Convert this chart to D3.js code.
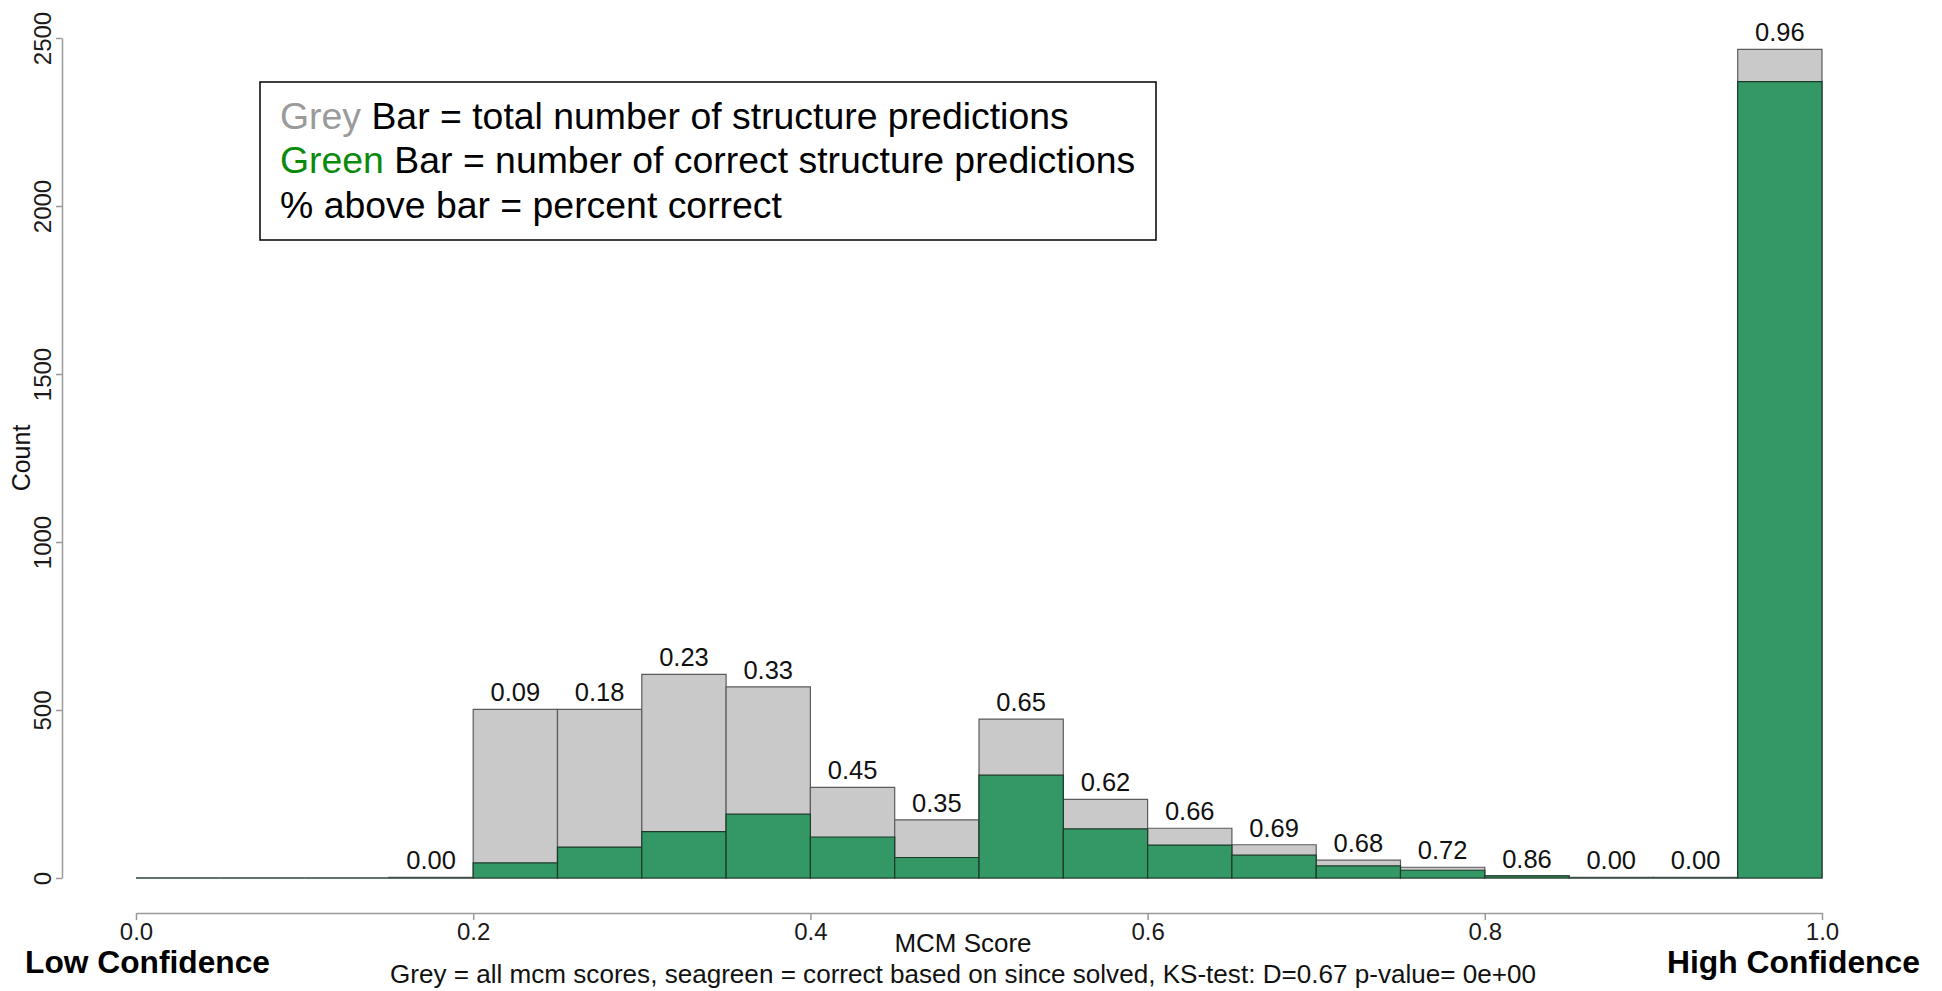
<!DOCTYPE html>
<html>
<head>
<meta charset="utf-8">
<script src="https://cdn.jsdelivr.net/npm/d3@7"></script>
<style>
  html, body { margin: 0; padding: 0; background: #ffffff; }
  svg { display: block; font-family: "Liberation Sans", Arial, Helvetica, sans-serif; }
</style>
</head>
<body>
<svg id="chart" width="1942" height="991"></svg>
<script>
// MCM score histogram: bin edges (width 0.05) and per-bin counts
const binEdges = [0.00, 0.05, 0.10, 0.15, 0.20, 0.25, 0.30, 0.35, 0.40, 0.45,
                  0.50, 0.55, 0.60, 0.65, 0.70, 0.75, 0.80, 0.85, 0.90, 0.95, 1.00];
// all structure predictions per bin (grey)
const totalCounts = [0, 0, 0, 2, 502, 502, 606, 569, 270, 173,
                     473, 234, 148, 99, 53, 32, 7, 2, 2, 2466];
// correct structure predictions per bin (seagreen)
const correctCounts = [0, 0, 0, 0, 45, 92, 138, 190, 122, 61,
                       306, 146, 98, 68, 36, 23, 6, 0, 0, 2370];

const xTickValues = [0.0, 0.2, 0.4, 0.6, 0.8, 1.0];
const yTickValues = [0, 500, 1000, 1500, 2000, 2500];

const xLabel = "MCM Score";
const yLabel = "Count";
const subLabel = "Grey = all mcm scores, seagreen = correct based on since solved, KS-test: D=0.67 p-value= 0e+00";
const lowLabel = "Low Confidence";
const highLabel = "High Confidence";
const legendLines = [
  [{ t: "Grey", c: "#9a9a9a" }, { t: " Bar = total number of structure predictions", c: "#000000" }],
  [{ t: "Green", c: "#0a8a0a" }, { t: " Bar = number of correct structure predictions", c: "#000000" }],
  [{ t: "% above bar = percent correct", c: "#000000" }]
];

// ---- layout ----
const svg = d3.select("#chart");
const plotLeft = 136, plotRight = 1822;
const baseY = 878, topY = 38;
const yAxisX = 62, xAxisY = 913;

const x = d3.scaleLinear().domain([0, 1]).range([plotLeft, plotRight]);
const y = d3.scaleLinear().domain([0, 2500]).range([baseY, topY]);

const bins = totalCounts.map((n, i) => ({
  x0: binEdges[i], x1: binEdges[i + 1], total: n, correct: correctCounts[i]
}));

// a rectangle outline as a path so that empty bins still show as a line
function barPath(x0, x1, v) {
  const p = d3.path();
  p.moveTo(x(x0), y(0));
  p.lineTo(x(x0), y(v));
  p.lineTo(x(x1), y(v));
  p.lineTo(x(x1), y(0));
  p.closePath();
  return p.toString();
}

const bars = svg.append("g");
bars.selectAll("path.total")
  .data(bins).join("path")
  .attr("class", "total")
  .attr("d", d => barPath(d.x0, d.x1, d.total))
  .attr("fill", "#c9c9c9")
  .attr("stroke", "#5c5c5c")
  .attr("stroke-width", 1.2);

bars.selectAll("path.correct")
  .data(bins).join("path")
  .attr("class", "correct")
  .attr("d", d => barPath(d.x0, d.x1, d.correct))
  .attr("fill", "#349766")
  .attr("stroke", "#1c3a28")
  .attr("stroke-width", 1.2);

// fraction correct above each non-empty bin
svg.append("g").selectAll("text")
  .data(bins.filter(d => d.total > 0)).join("text")
  .attr("x", d => x((d.x0 + d.x1) / 2))
  .attr("y", d => y(d.total) - 8)
  .attr("text-anchor", "middle")
  .attr("font-size", 25.5)
  .attr("fill", "#111")
  .text(d => (d.correct / d.total).toFixed(2));

// ---- axes ----
const axisColor = "#9a9a9a";
const gx = svg.append("g")
  .attr("transform", `translate(0,${xAxisY})`)
  .call(d3.axisBottom(x).tickValues(xTickValues).tickFormat(d3.format(".1f"))
        .tickSize(7).tickSizeOuter(0));
const gy = svg.append("g")
  .attr("transform", `translate(${yAxisX},0)`)
  .call(d3.axisLeft(y).tickValues(yTickValues).tickFormat(d3.format("d"))
        .tickSize(6).tickSizeOuter(0));

[gx, gy].forEach(g => {
  g.attr("font-family", null).attr("font-size", 24);
  g.select(".domain").attr("stroke", axisColor).attr("stroke-width", 1.5);
  g.selectAll(".tick line").attr("stroke", axisColor).attr("stroke-width", 1.5);
  g.selectAll(".tick text").attr("fill", "#1a1a1a");
});
gx.selectAll(".tick text").attr("y", 10).attr("dy", "0.71em");
gy.selectAll(".tick text")
  .attr("transform", "rotate(-90)")
  .attr("x", 0).attr("y", -11).attr("dy", null)
  .attr("text-anchor", "middle");

// ---- axis titles and notes ----
svg.append("text")
  .attr("x", 963).attr("y", 952)
  .attr("text-anchor", "middle").attr("font-size", 25).attr("fill", "#111")
  .attr("textLength", 137).attr("lengthAdjust", "spacingAndGlyphs")
  .text(xLabel);

svg.append("text")
  .attr("transform", `translate(30,${(baseY + topY) / 2}) rotate(-90)`)
  .attr("text-anchor", "middle").attr("font-size", 25).attr("fill", "#111")
  .text(yLabel);

svg.append("text")
  .attr("x", 963).attr("y", 983)
  .attr("text-anchor", "middle").attr("font-size", 25).attr("fill", "#111")
  .attr("textLength", 1146).attr("lengthAdjust", "spacingAndGlyphs")
  .text(subLabel);

svg.append("text")
  .attr("x", 25).attr("y", 973)
  .attr("font-size", 31.5).attr("font-weight", "bold").attr("fill", "#000")
  .attr("textLength", 245).attr("lengthAdjust", "spacingAndGlyphs")
  .text(lowLabel);

svg.append("text")
  .attr("x", 1667).attr("y", 973)
  .attr("font-size", 31.5).attr("font-weight", "bold").attr("fill", "#000")
  .attr("textLength", 253).attr("lengthAdjust", "spacingAndGlyphs")
  .text(highLabel);

// ---- legend box ----
const legend = svg.append("g");
legend.append("rect")
  .attr("x", 260).attr("y", 82).attr("width", 896).attr("height", 158)
  .attr("fill", "#ffffff").attr("stroke", "#111").attr("stroke-width", 1.6);

const legendBaselines = [129, 173, 218];
legendLines.forEach((parts, i) => {
  const t = legend.append("text")
    .attr("x", 280).attr("y", legendBaselines[i])
    .attr("font-size", 37.4);
  parts.forEach(p => t.append("tspan").attr("fill", p.c).text(p.t));
});
</script>
</body>
</html>
